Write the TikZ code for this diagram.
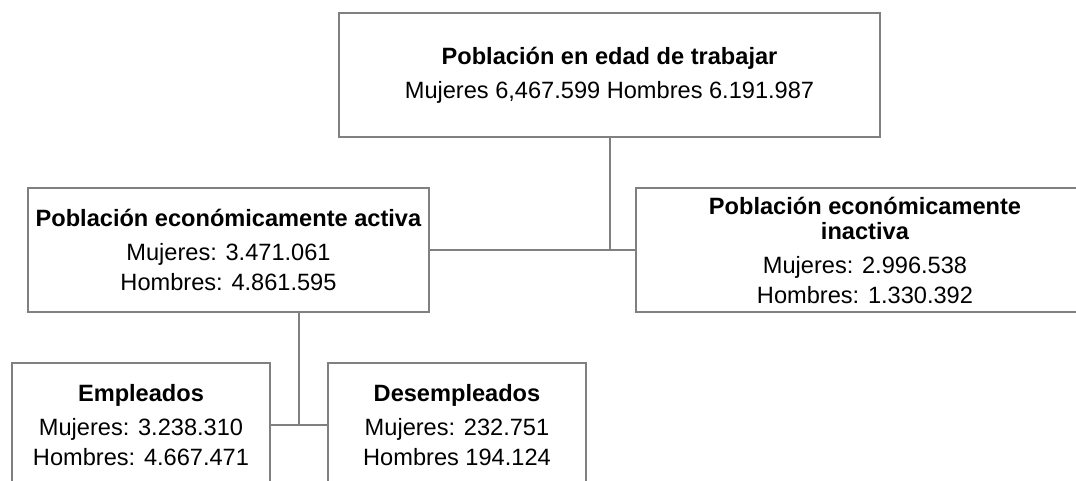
\documentclass[tikz,border=0pt]{standalone}
\usepackage{fontspec}
\setmainfont{Liberation Sans}
\usetikzlibrary{positioning, calc}
\definecolor{linegray}{RGB}{128,128,128}

\begin{document}
\begin{tikzpicture}[x=0.5pt, y=-0.5pt,
  caja/.style={rectangle, draw=linegray, line width=1pt, inner sep=0pt, minimum height=62pt, align=center, font=\fontsize{11.8}{15}\selectfont},
  enlace/.style={draw=linegray, line width=1pt}]
\clip (0,0) rectangle (1076,481);
\node[caja, minimum width=270.5pt] (pet) at (609.5,75) {\textbf{Población en edad de trabajar}\\[2pt] Mujeres 6,467.599 Hombres 6.191.987};
\node[caja, minimum width=200.5pt] (pea) at (228.5,250) {\textbf{Población económicamente activa}\\[2pt] Mujeres: 3.471.061\\ Hombres: 4.861.595};
\node[caja, minimum width=229pt] (pei) at (865,250) {\textbf{Población económicamente}\\[-2.5pt] \textbf{inactiva}\\[2pt] Mujeres: 2.996.538\\ Hombres: 1.330.392};
\node[caja, minimum width=129pt] (emp) at (141,425) {\textbf{Empleados}\\[2pt] Mujeres: 3.238.310\\ Hombres: 4.667.471};
\node[caja, minimum width=129pt] (des) at (457,425) {\textbf{Desempleados}\\[2pt] Mujeres: 232.751\\ Hombres 194.124};
\coordinate (m) at ($(emp.east)!0.5!(des.west)$);
\draw[enlace] (pet.south) -- (pet.south |- pea.east);
\draw[enlace] (pea.east) -- (pei.west);
\draw[enlace] (m |- pea.south) -- (m);
\draw[enlace] (emp.east) -- (des.west);
\end{tikzpicture}
\end{document}
